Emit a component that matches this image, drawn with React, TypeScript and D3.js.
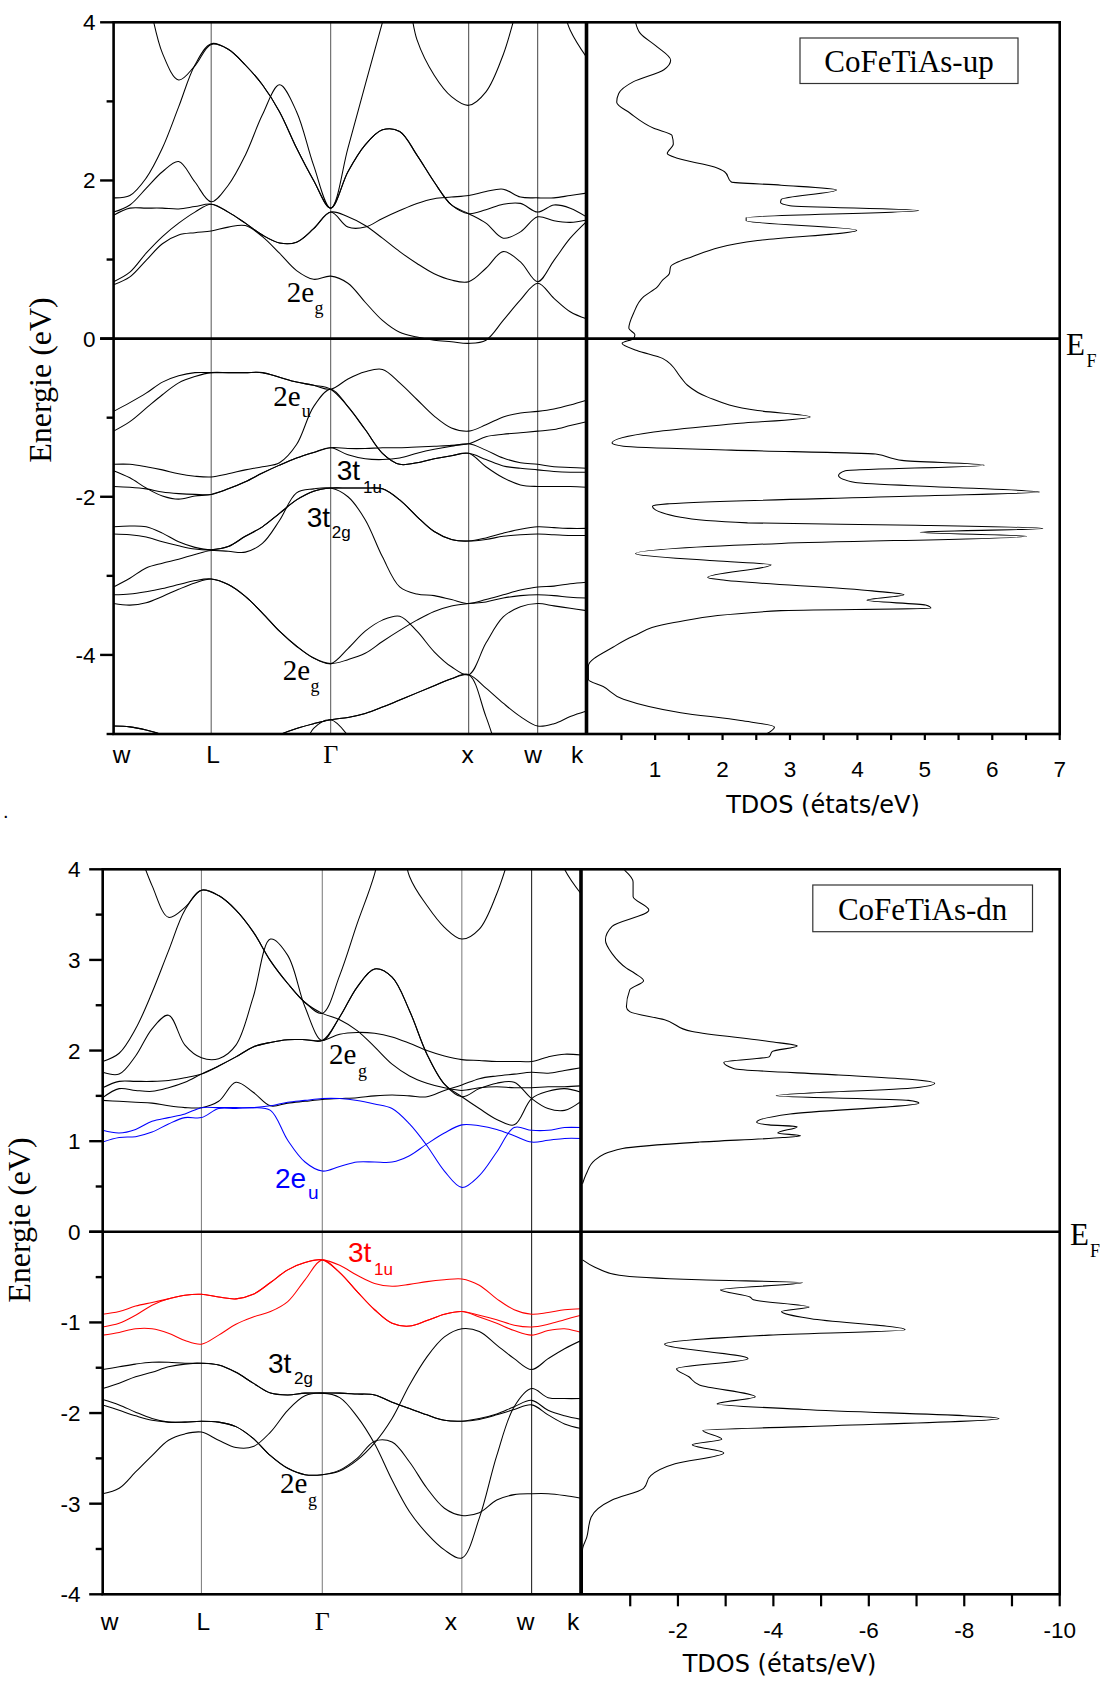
import React from "react";
import * as d3 from "d3";

// ---------- k-path (W L Γ X W K), path-length units ----------
const K_GRID = [0, 0.1179, 0.2357, 0.3536, 0.4714, 0.5893, 0.7071, 0.8308, 0.9545, 1.0782, 1.202, 1.3257, 1.4494, 1.5731, 1.6981, 1.8231, 1.9481, 2.0731, 2.1981, 2.3231, 2.4481, 2.5731, 2.6981, 2.8231, 2.9481, 3.0731, 3.191, 3.3088, 3.4267];
const K_SYM = [0, 0.7071, 1.5731, 2.5731, 3.0731, 3.4267];
const K_LABELS = ["w", "L", "Γ", "x", "w", "k"];

// ---------- spin-up bands (eV) ----------
const UP_C1 = [5.8, 5.0, 4.4, 3.61, 3.27, 3.45, 3.72, 3.66, 3.46, 3.21, 2.87, 2.41, 2.0, 1.65, 2.41, 3.21, 4.0, 4.8, 3.78, 3.33, 3.06, 2.95, 3.12, 3.59, 4.3, 4.8, 4.5, 3.9, 3.56];
const UP_C2 = [1.78, 1.81, 2.03, 2.41, 2.93, 3.46, 3.73, 3.66, 3.46, 3.21, 2.87, 2.41, 2.0, 1.65, 2.11, 2.45, 2.64, 2.62, 2.32, 1.98, 1.69, 1.58, 1.63, 1.7, 1.71, 1.6, 1.69, 1.65, 1.54];
const UP_C3 = [1.6, 1.69, 1.9, 2.11, 2.24, 1.98, 1.73, 1.94, 2.32, 2.83, 3.21, 2.87, 2.19, 1.65, 2.11, 2.45, 2.64, 2.62, 2.32, 1.98, 1.69, 1.58, 1.46, 1.27, 1.35, 1.54, 1.49, 1.47, 1.5];
const UP_C4 = [1.56, 1.65, 1.65, 1.65, 1.64, 1.67, 1.7, 1.6, 1.46, 1.31, 1.21, 1.22, 1.39, 1.6, 1.41, 1.41, 1.52, 1.62, 1.71, 1.77, 1.79, 1.81, 1.86, 1.89, 1.79, 1.78, 1.78, 1.81, 1.84];
const UP_C5 = [0.72, 0.84, 1.08, 1.29, 1.46, 1.6, 1.7, 1.6, 1.46, 1.31, 1.21, 1.22, 1.39, 1.6, 1.54, 1.43, 1.27, 1.1, 0.95, 0.82, 0.74, 0.72, 0.89, 1.1, 0.97, 0.72, 0.99, 1.27, 1.48];
const UP_C6 = [0.68, 0.78, 0.99, 1.2, 1.31, 1.34, 1.36, 1.41, 1.43, 1.29, 1.08, 0.86, 0.75, 0.79, 0.7, 0.46, 0.23, 0.08, 0.02, -0.02, -0.04, -0.06, -0.02, 0.23, 0.49, 0.7, 0.51, 0.34, 0.25];
const UP_V1 = [-0.92, -0.81, -0.69, -0.55, -0.47, -0.43, -0.43, -0.43, -0.43, -0.43, -0.49, -0.55, -0.59, -0.64, -0.51, -0.42, -0.39, -0.56, -0.77, -0.98, -1.13, -1.17, -1.09, -0.99, -0.94, -0.92, -0.89, -0.84, -0.78];
const UP_V2 = [-1.17, -1.05, -0.88, -0.71, -0.56, -0.48, -0.43, -0.43, -0.43, -0.43, -0.49, -0.55, -0.59, -0.64, -0.86, -1.15, -1.45, -1.59, -1.57, -1.52, -1.48, -1.45, -1.53, -1.61, -1.64, -1.66, -1.68, -1.69, -1.69];
const UP_V3 = [-1.59, -1.59, -1.62, -1.66, -1.71, -1.74, -1.75, -1.71, -1.66, -1.62, -1.57, -1.34, -0.86, -0.64, -0.86, -1.15, -1.45, -1.59, -1.57, -1.52, -1.48, -1.45, -1.62, -1.76, -1.85, -1.87, -1.87, -1.87, -1.88];
const UP_V4 = [-1.67, -1.76, -1.89, -1.99, -2.03, -1.99, -1.97, -1.9, -1.81, -1.7, -1.6, -1.51, -1.44, -1.38, -1.39, -1.39, -1.38, -1.38, -1.37, -1.36, -1.35, -1.33, -1.24, -1.21, -1.19, -1.17, -1.15, -1.1, -1.05];
const UP_V5 = [-1.87, -1.88, -1.9, -1.94, -1.96, -1.97, -1.97, -1.9, -1.81, -1.7, -1.6, -1.51, -1.44, -1.38, -1.47, -1.52, -1.53, -1.51, -1.45, -1.4, -1.36, -1.33, -1.41, -1.51, -1.57, -1.59, -1.62, -1.63, -1.64];
const UP_V6 = [-2.38, -2.37, -2.38, -2.46, -2.57, -2.64, -2.67, -2.63, -2.5, -2.38, -2.21, -2.04, -1.93, -1.89, -1.89, -1.89, -1.9, -2.04, -2.25, -2.44, -2.54, -2.56, -2.52, -2.46, -2.41, -2.38, -2.39, -2.4, -2.4];
const UP_V7 = [-2.47, -2.48, -2.51, -2.57, -2.62, -2.66, -2.67, -2.63, -2.5, -2.38, -2.21, -2.04, -1.93, -1.89, -1.89, -1.89, -1.9, -2.04, -2.25, -2.44, -2.54, -2.56, -2.54, -2.5, -2.48, -2.47, -2.48, -2.49, -2.49];
const UP_V8 = [-3.14, -3.03, -2.9, -2.84, -2.79, -2.73, -2.68, -2.69, -2.7, -2.59, -2.3, -1.95, -1.9, -1.89, -2.0, -2.29, -2.76, -3.14, -3.23, -3.25, -3.3, -3.35, -3.3, -3.24, -3.18, -3.14, -3.13, -3.1, -3.08];
const UP_V9 = [-3.24, -3.23, -3.2, -3.16, -3.11, -3.06, -3.04, -3.11, -3.26, -3.47, -3.7, -3.89, -4.04, -4.11, -4.06, -3.98, -3.83, -3.69, -3.56, -3.45, -3.38, -3.35, -3.33, -3.28, -3.25, -3.24, -3.25, -3.27, -3.28];
const UP_V10 = [-3.35, -3.37, -3.34, -3.26, -3.17, -3.09, -3.04, -3.11, -3.26, -3.47, -3.7, -3.89, -4.04, -4.11, -3.92, -3.7, -3.56, -3.51, -3.7, -3.96, -4.15, -4.25, -3.85, -3.52, -3.39, -3.35, -3.38, -3.41, -3.44];
const UP_V11 = [-4.9, -4.91, -4.95, -5.01, -5.1, -5.2, -5.25, -5.25, -5.2, -5.12, -5.01, -4.93, -4.87, -4.82, -4.79, -4.74, -4.66, -4.57, -4.48, -4.39, -4.3, -4.25, -4.42, -4.61, -4.78, -4.9, -4.87, -4.78, -4.71];
const UP_V12 = [-5.8, -5.8, -5.8, -5.8, -5.8, -5.8, -5.8, -5.8, -5.8, -5.8, -5.8, -5.4, -4.93, -4.82, -5.02, -5.4, -5.8, -5.8, -5.8, -5.8, -5.8, -5.8, -5.8, -5.8, -5.8, -5.8, -5.8, -5.8, -5.8];
const UP_V13 = [-4.9, -4.91, -4.95, -5.01, -5.1, -5.2, -5.25, -5.25, -5.2, -5.12, -5.01, -4.93, -4.87, -4.82, -4.79, -4.74, -4.66, -4.57, -4.48, -4.39, -4.3, -4.25, -4.78, -5.4, -5.8, -5.8, -5.8, -5.8, -5.8];

// ---------- spin-down bands (eV) ----------
const DN_C1 = [5.5, 4.8, 4.3, 3.82, 3.47, 3.58, 3.77, 3.71, 3.55, 3.31, 2.99, 2.74, 2.53, 2.41, 2.83, 3.4, 3.95, 4.8, 3.92, 3.6, 3.36, 3.23, 3.34, 3.73, 4.3, 4.8, 4.5, 4.0, 3.73];
const DN_C2 = [1.88, 1.97, 2.24, 2.64, 3.1, 3.55, 3.77, 3.71, 3.55, 3.31, 2.99, 2.74, 2.53, 2.41, 2.34, 2.22, 2.04, 1.85, 1.72, 1.64, 1.59, 1.56, 1.59, 1.6, 1.59, 1.59, 1.6, 1.6, 1.61];
const DN_C3 = [1.76, 1.74, 1.94, 2.24, 2.39, 2.06, 1.92, 1.91, 2.06, 2.59, 3.23, 3.05, 2.48, 2.11, 2.37, 2.7, 2.9, 2.81, 2.44, 1.96, 1.63, 1.49, 1.36, 1.24, 1.18, 1.47, 1.55, 1.58, 1.54];
const DN_C4 = [1.59, 1.66, 1.66, 1.66, 1.67, 1.7, 1.74, 1.83, 1.93, 2.04, 2.09, 2.12, 2.12, 2.11, 2.37, 2.7, 2.9, 2.81, 2.44, 1.96, 1.63, 1.49, 1.58, 1.64, 1.65, 1.47, 1.36, 1.34, 1.44];
const DN_C5 = [1.48, 1.58, 1.56, 1.55, 1.59, 1.65, 1.74, 1.83, 1.93, 2.04, 2.09, 2.12, 2.12, 2.11, 2.18, 2.2, 2.19, 2.15, 2.08, 2.0, 1.94, 1.9, 1.89, 1.88, 1.88, 1.88, 1.93, 1.96, 1.95];
const DN_C6 = [1.45, 1.44, 1.43, 1.42, 1.39, 1.37, 1.37, 1.44, 1.65, 1.54, 1.39, 1.42, 1.44, 1.46, 1.47, 1.48, 1.5, 1.51, 1.5, 1.49, 1.56, 1.62, 1.69, 1.72, 1.74, 1.76, 1.75, 1.78, 1.81];
const DN_B1 = [1.12, 1.09, 1.13, 1.22, 1.26, 1.3, 1.37, 1.37, 1.37, 1.37, 1.39, 1.43, 1.45, 1.47, 1.47, 1.45, 1.41, 1.36, 1.19, 0.95, 0.67, 0.49, 0.62, 0.88, 1.15, 1.12, 1.12, 1.15, 1.15];
const DN_B2 = [0.99, 1.04, 1.05, 1.1, 1.19, 1.26, 1.26, 1.36, 1.36, 1.37, 1.34, 1.01, 0.77, 0.67, 0.72, 0.77, 0.77, 0.77, 0.84, 0.97, 1.09, 1.18, 1.17, 1.13, 1.06, 0.99, 1.01, 1.03, 1.03];
const DN_R1 = [-0.91, -0.88, -0.82, -0.78, -0.74, -0.7, -0.69, -0.72, -0.74, -0.69, -0.56, -0.42, -0.34, -0.31, -0.37, -0.48, -0.57, -0.6, -0.58, -0.55, -0.53, -0.52, -0.59, -0.74, -0.86, -0.91, -0.89, -0.86, -0.85];
const DN_R2 = [-1.05, -1.01, -0.92, -0.81, -0.74, -0.7, -0.69, -0.72, -0.74, -0.69, -0.56, -0.42, -0.34, -0.31, -0.45, -0.66, -0.86, -1.01, -1.04, -0.98, -0.91, -0.88, -0.92, -0.97, -1.03, -1.05, -1.02, -0.97, -0.92];
const DN_R3 = [-1.14, -1.11, -1.07, -1.07, -1.12, -1.2, -1.24, -1.14, -1.02, -0.94, -0.88, -0.77, -0.53, -0.31, -0.45, -0.66, -0.86, -1.01, -1.04, -0.98, -0.91, -0.88, -0.94, -1.01, -1.09, -1.14, -1.09, -1.07, -1.11];
const DN_K1 = [-1.52, -1.49, -1.46, -1.44, -1.44, -1.45, -1.45, -1.47, -1.55, -1.67, -1.78, -1.8, -1.78, -1.78, -1.78, -1.79, -1.8, -1.88, -1.95, -2.02, -2.08, -2.09, -2.06, -2.01, -1.93, -1.86, -1.97, -2.03, -2.07];
const DN_K2 = [-1.73, -1.67, -1.6, -1.55, -1.49, -1.46, -1.45, -1.47, -1.55, -1.67, -1.78, -1.8, -1.78, -1.78, -1.78, -1.79, -1.8, -1.88, -1.95, -2.02, -2.08, -2.09, -2.07, -2.02, -1.96, -1.91, -2.02, -2.12, -2.17];
const DN_K3 = [-1.85, -1.91, -1.99, -2.06, -2.1, -2.1, -2.09, -2.1, -2.15, -2.28, -2.47, -2.61, -2.68, -2.68, -2.64, -2.52, -2.33, -2.06, -1.69, -1.38, -1.16, -1.07, -1.1, -1.25, -1.4, -1.52, -1.4, -1.29, -1.2];
const DN_K4 = [-1.91, -1.97, -2.03, -2.08, -2.1, -2.1, -2.09, -2.1, -2.15, -2.28, -2.47, -2.61, -2.68, -2.68, -2.63, -2.5, -2.31, -2.32, -2.54, -2.83, -3.05, -3.13, -3.1, -2.96, -2.9, -2.89, -2.89, -2.91, -2.94];
const DN_K5 = [-2.89, -2.83, -2.65, -2.47, -2.3, -2.23, -2.21, -2.3, -2.38, -2.37, -2.21, -1.97, -1.81, -1.78, -1.83, -2.04, -2.34, -2.74, -3.09, -3.33, -3.51, -3.6, -3.16, -2.47, -1.93, -1.73, -1.83, -1.84, -1.84];

// ---------- TDOS ----------
const UP_DOS_E = [4.0, 3.86, 3.69, 3.52, 3.4, 3.25, 3.1, 2.99, 2.85, 2.66, 2.57, 2.46, 2.34, 2.28, 2.17, 2.11, 1.98, 1.94, 1.88, 1.76, 1.72, 1.68, 1.62, 1.53, 1.49, 1.37, 1.24, 1.03, 0.91, 0.82, 0.74, 0.65, 0.53, 0.32, 0.13, 0.05, 0.0, -0.06, -0.15, -0.25, -0.49, -0.59, -0.74, -0.91, -0.99, -1.08, -1.18, -1.32, -1.36, -1.41, -1.46, -1.52, -1.54, -1.6, -1.67, -1.73, -1.82, -1.88, -1.94, -1.99, -2.09, -2.12, -2.26, -2.33, -2.36, -2.4, -2.45, -2.5, -2.59, -2.72, -2.81, -2.86, -3.02, -3.05, -3.19, -3.24, -3.31, -3.37, -3.41, -3.44, -3.59, -3.76, -3.9, -4.14, -4.31, -4.4, -4.56, -4.73, -4.83, -4.91, -5.0];
const UP_DOS_V = [0.71, 0.78, 1.03, 1.23, 1.13, 0.68, 0.46, 0.43, 0.63, 0.98, 1.25, 1.27, 1.18, 1.33, 1.88, 2.03, 2.13, 2.87, 3.69, 2.87, 2.86, 3.0, 4.91, 2.35, 2.35, 3.99, 2.52, 1.53, 1.23, 1.21, 1.11, 1.03, 0.83, 0.68, 0.61, 0.7, 0.68, 0.51, 0.73, 1.11, 1.38, 1.48, 1.78, 2.52, 3.3, 2.13, 0.98, 0.36, 0.53, 2.13, 4.27, 4.54, 4.66, 5.88, 3.82, 3.72, 3.97, 5.36, 6.7, 4.86, 1.18, 0.96, 1.38, 2.37, 4.86, 6.75, 4.93, 6.51, 2.87, 0.71, 1.88, 2.72, 1.78, 1.97, 4.22, 4.69, 4.14, 5.01, 5.09, 2.87, 1.28, 0.68, 0.38, 0.01, 0.01, 0.23, 0.53, 1.38, 2.27, 2.77, 2.65];
const DN_DOS_CB_E = [3.99, 3.86, 3.7, 3.55, 3.37, 3.22, 3.07, 2.91, 2.85, 2.77, 2.67, 2.48, 2.43, 2.34, 2.21, 2.1, 2.05, 1.99, 1.93, 1.87, 1.8, 1.73, 1.68, 1.64, 1.59, 1.5, 1.45, 1.42, 1.3, 1.21, 1.18, 1.16, 1.09, 1.06, 1.04, 0.99, 0.92, 0.79, 0.64, 0.53];
const DN_DOS_CB_V = [-0.88, -1.06, -1.06, -1.39, -0.62, -0.48, -0.62, -0.92, -1.1, -1.28, -0.99, -0.92, -0.99, -1.72, -2.3, -3.91, -4.5, -3.98, -3.91, -2.96, -3.18, -5.37, -6.91, -7.38, -6.98, -4.06, -6.83, -7.05, -4.35, -3.65, -3.91, -4.5, -4.09, -4.57, -4.2, -2.45, -0.84, -0.26, -0.08, 0.0];
const DN_DOS_VB_E = [-0.31, -0.39, -0.48, -0.53, -0.56, -0.64, -0.72, -0.75, -0.83, -0.88, -0.96, -1.08, -1.14, -1.24, -1.4, -1.51, -1.6, -1.69, -1.82, -1.9, -1.96, -2.06, -2.15, -2.19, -2.29, -2.35, -2.44, -2.56, -2.69, -2.83, -2.96, -3.15, -3.37, -3.51, -4.0];
const DN_DOS_VB_V = [0.0, -0.26, -0.77, -2.45, -4.61, -2.89, -3.51, -3.58, -4.75, -4.17, -4.79, -6.76, -3.91, -1.72, -3.47, -1.97, -2.23, -2.45, -3.62, -2.82, -4.64, -8.73, -4.64, -2.52, -2.92, -2.3, -2.96, -1.94, -1.43, -1.28, -0.62, -0.18, -0.09, 0.0, 0.0];

// ---------- axis ticks ----------
const UP_Y_MAJOR = [4, 2, 0, -2, -4];
const UP_Y_MINOR = [3, 1, -1, -3, -5];
const DN_Y_MAJOR = [4, 3, 2, 1, 0, -1, -2, -3, -4];
const DN_Y_MINOR = [3.5, 2.5, 1.5, 0.5, -0.5, -1.5, -2.5, -3.5];
const UP_DOS_TICKS = [0.5, 1, 1.5, 2, 2.5, 3, 3.5, 4, 4.5, 5, 5.5, 6, 6.5, 7];
const UP_DOS_LABELS = [1, 2, 3, 4, 5, 6, 7];
const DN_DOS_TICKS = [-1, -2, -3, -4, -5, -6, -7, -8, -9, -10];
const DN_DOS_LABELS = [-2, -4, -6, -8, -10];

const SANS = "'Liberation Sans', Arial, sans-serif";
const SERIF = "'Liberation Serif', 'Times New Roman', serif";
const TAHOMA = "'DejaVu Sans', Verdana, sans-serif";

type BandDef = { e: number[]; color: string };
type Ann = { main: string; sub: string; x: number; y: number; sx: number; sy: number; serif: boolean; color: string; size: number; subSize: number };

type Cfg = {
  id: string;
  left: number; kx: number; right: number; top: number; bottom: number;
  eDomain: [number, number];
  yMajor: number[]; yMinor: number[]; yLabelX: number;
  dosDomain: [number, number]; dosRange: [number, number];
  dosTicks: number[]; dosLabels: number[]; dosTickLen: number; dosLabelY: number;
  dosTitleX: number; dosTitleY: number;
  kLabelY: number; kLabelDx: number[];
  symColors: string[];
  bands: BandDef[];
  dos: { e: number[]; v: number[] }[];
  legend: { text: string; x: number; y: number; w: number; h: number; ty: number };
  ef: { x: number; y: number; fx: number; fy: number };
  yTitle: { x: number; y: number };
  anns: Ann[];
};

function Panel({ c }: { c: Cfg }) {
  const xk = d3.scaleLinear().domain([0, K_SYM[K_SYM.length - 1]]).range([c.left, c.kx]);
  const ye = d3.scaleLinear().domain(c.eDomain).range([c.bottom, c.top]);
  const xd = d3.scaleLinear().domain(c.dosDomain).range(c.dosRange);
  const bandLine = d3
    .line<number>()
    .x((_, i) => xk(K_GRID[i]))
    .y((e) => ye(e))
    .curve(d3.curveCatmullRom.alpha(0.5));
  const majLen = 13.5;
  const minLen = 7;
  const y0 = ye(0);
  return (
    <g>
      <defs>
        <clipPath id={`band-${c.id}`}>
          <rect x={c.left} y={c.top} width={c.kx - c.left} height={c.bottom - c.top} />
        </clipPath>
        <clipPath id={`dos-${c.id}`}>
          <rect x={c.kx} y={c.top} width={c.right - c.kx} height={c.bottom - c.top} />
        </clipPath>
      </defs>
      {K_SYM.slice(1, -1).map((k, i) => (
        <line key={`s${i}`} x1={xk(k)} x2={xk(k)} y1={c.top} y2={c.bottom} stroke={c.symColors[i]} strokeWidth={1} />
      ))}
      <g clipPath={`url(#band-${c.id})`}>
        {c.bands.map((b, i) => (
          <path key={`b${i}`} d={bandLine(b.e) || ""} fill="none" stroke={b.color} strokeWidth={1.05} />
        ))}
      </g>
      <g clipPath={`url(#dos-${c.id})`}>
        {c.dos.map((s, j) => {
          const l = d3
            .line<number>()
            .x((v) => xd(v))
            .y((_, i) => ye(s.e[i]))
            .curve(d3.curveMonotoneY);
          return <path key={`d${j}`} d={l(s.v) || ""} fill="none" stroke="#000" strokeWidth={1.05} />;
        })}
      </g>
      <rect x={c.left} y={c.top} width={c.right - c.left} height={c.bottom - c.top} fill="none" stroke="#000" strokeWidth={2.6} />
      <line x1={c.kx} x2={c.kx} y1={c.top} y2={c.bottom} stroke="#000" strokeWidth={3.6} />
      <line x1={c.left - majLen} x2={c.right} y1={y0} y2={y0} stroke="#000" strokeWidth={2.6} />
      {c.yMajor.map((t) => (
        <g key={`ym${t}`}>
          <line x1={c.left - majLen} x2={c.left} y1={ye(t)} y2={ye(t)} stroke="#000" strokeWidth={2.4} />
          <text x={c.yLabelX} y={ye(t) + 8} textAnchor="end" fontFamily={SANS} fontSize={22.5}>
            {t}
          </text>
        </g>
      ))}
      {c.yMinor.map((t) => (
        <line key={`yn${t}`} x1={c.left - minLen} x2={c.left} y1={ye(t)} y2={ye(t)} stroke="#000" strokeWidth={2.4} />
      ))}
      {c.dosTicks.map((t) => (
        <line key={`dt${t}`} x1={xd(t)} x2={xd(t)} y1={c.bottom} y2={c.bottom + c.dosTickLen} stroke="#000" strokeWidth={2.2} />
      ))}
      {c.dosLabels.map((t) => (
        <text key={`dl${t}`} x={xd(t)} y={c.dosLabelY} textAnchor="middle" fontFamily={SANS} fontSize={22.5}>
          {t}
        </text>
      ))}
      <text x={c.dosTitleX} y={c.dosTitleY} textAnchor="middle" fontFamily={TAHOMA} fontSize={24}>
        TDOS (états/eV)
      </text>
      {K_SYM.map((k, i) => (
        <text
          key={`kl${i}`}
          x={xk(k) + c.kLabelDx[i]}
          y={c.kLabelY}
          textAnchor="middle"
          fontFamily={K_LABELS[i] === "Γ" ? SERIF : SANS}
          fontSize={K_LABELS[i] === "Γ" ? 26 : 24.5}
        >
          {K_LABELS[i]}
        </text>
      ))}
      <text
        transform={`translate(${c.yTitle.x},${c.yTitle.y}) rotate(-90)`}
        textAnchor="middle"
        fontFamily={SERIF}
        fontSize={32}
      >
        Energie (eV)
      </text>
      <rect x={c.legend.x} y={c.legend.y} width={c.legend.w} height={c.legend.h} fill="#fff" stroke="#333" strokeWidth={1.2} />
      <text x={c.legend.x + c.legend.w / 2} y={c.legend.ty} textAnchor="middle" fontFamily={SERIF} fontSize={31}>
        {c.legend.text}
      </text>
      <text x={c.ef.x} y={c.ef.y} fontFamily={SERIF} fontSize={31}>
        E
      </text>
      <text x={c.ef.fx} y={c.ef.fy} fontFamily={SERIF} fontSize={18}>
        F
      </text>
      {c.anns.map((a, i) => (
        <g key={`a${i}`} fill={a.color}>
          <text x={a.x} y={a.y} fontFamily={a.serif ? SERIF : SANS} fontSize={a.size}>
            {a.main}
          </text>
          <text x={a.sx} y={a.sy} fontFamily={a.serif ? SERIF : SANS} fontSize={a.subSize}>
            {a.sub}
          </text>
        </g>
      ))}
    </g>
  );
}

const black = "#000";

const TOP_CFG: Cfg = {
  id: "up",
  left: 113.6, kx: 586.5, right: 1059.7, top: 22.3, bottom: 734,
  eDomain: [-5, 4],
  yMajor: UP_Y_MAJOR, yMinor: UP_Y_MINOR, yLabelX: 95.5,
  dosDomain: [0, 7], dosRange: [587.7, 1059.7],
  dosTicks: UP_DOS_TICKS, dosLabels: UP_DOS_LABELS, dosTickLen: 6, dosLabelY: 777,
  dosTitleX: 823, dosTitleY: 813,
  kLabelY: 763, kLabelDx: [8, 2, 0, -1, -4.5, -9.5],
  symColors: ["#555", "#555", "#444", "#444"],
  bands: [UP_C1, UP_C2, UP_C3, UP_C4, UP_C5, UP_C6, UP_V1, UP_V2, UP_V3, UP_V4, UP_V5, UP_V6, UP_V7, UP_V8, UP_V9, UP_V10, UP_V11, UP_V12, UP_V13].map((e) => ({ e, color: black })),
  dos: [{ e: UP_DOS_E, v: UP_DOS_V }],
  legend: { text: "CoFeTiAs-up", x: 800, y: 38, w: 218, h: 45.5, ty: 71.5 },
  ef: { x: 1066, y: 355, fx: 1086.5, fy: 367 },
  yTitle: { x: 51, y: 380 },
  anns: [
    { main: "2e", sub: "g", x: 286.7, y: 301.7, sx: 314.5, sy: 313.5, serif: true, color: black, size: 29, subSize: 18 },
    { main: "2e", sub: "u", x: 273.3, y: 406, sx: 301.7, sy: 417, serif: true, color: black, size: 29, subSize: 18 },
    { main: "3t", sub: "1u", x: 336.7, y: 480, sx: 363, sy: 492.7, serif: false, color: black, size: 28, subSize: 17 },
    { main: "3t", sub: "2g", x: 306.7, y: 527, sx: 331.7, sy: 538, serif: false, color: black, size: 28, subSize: 17 },
    { main: "2e", sub: "g", x: 282.7, y: 680, sx: 310.5, sy: 692, serif: true, color: black, size: 29, subSize: 18 },
  ],
};

const BOT_CFG: Cfg = {
  id: "dn",
  left: 102.7, kx: 581, right: 1059.7, top: 869.3, bottom: 1594.3,
  eDomain: [-4, 4],
  yMajor: DN_Y_MAJOR, yMinor: DN_Y_MINOR, yLabelX: 80.5,
  dosDomain: [0, -10], dosRange: [582.5, 1059.7],
  dosTicks: DN_DOS_TICKS, dosLabels: DN_DOS_LABELS, dosTickLen: 12, dosLabelY: 1638,
  dosTitleX: 779.5, dosTitleY: 1672,
  kLabelY: 1630, kLabelDx: [7, 2, 0, -11, -6, -8],
  symColors: ["#777", "#777", "#777", "#111"],
  bands: [
    ...[DN_C1, DN_C2, DN_C3, DN_C4, DN_C5, DN_C6, DN_K1, DN_K2, DN_K3, DN_K4, DN_K5].map((e) => ({ e, color: black })),
    ...[DN_B1, DN_B2].map((e) => ({ e, color: "#0000ff" })),
    ...[DN_R1, DN_R2, DN_R3].map((e) => ({ e, color: "#ff0000" })),
  ],
  dos: [
    { e: DN_DOS_CB_E, v: DN_DOS_CB_V },
    { e: DN_DOS_VB_E, v: DN_DOS_VB_V },
  ],
  legend: { text: "CoFeTiAs-dn", x: 812.8, y: 885, w: 219.7, h: 46.7, ty: 920 },
  ef: { x: 1070, y: 1245, fx: 1090, fy: 1257 },
  yTitle: { x: 30, y: 1220 },
  anns: [
    { main: "2e", sub: "g", x: 329, y: 1064, sx: 358, sy: 1077, serif: true, color: black, size: 29, subSize: 18 },
    { main: "2e", sub: "u", x: 275, y: 1188, sx: 308, sy: 1199, serif: false, color: "#0000ff", size: 28, subSize: 19 },
    { main: "3t", sub: "1u", x: 348, y: 1262, sx: 374, sy: 1275, serif: false, color: "#ff0000", size: 28, subSize: 17 },
    { main: "3t", sub: "2g", x: 268, y: 1373, sx: 294, sy: 1384, serif: false, color: black, size: 28, subSize: 17 },
    { main: "2e", sub: "g", x: 280, y: 1493, sx: 308, sy: 1506, serif: true, color: black, size: 29, subSize: 18 },
  ],
};

export default function App() {
  return (
    <svg
      width={1106}
      height={1681}
      viewBox="0 0 1106 1681"
      style={{ position: "absolute", left: 0, top: 0, background: "#fff" }}
    >
      <rect x={0} y={0} width={1106} height={1681} fill="#fff" />
      <Panel c={TOP_CFG} />
      <Panel c={BOT_CFG} />
      <text x={3} y={818} fontFamily={SANS} fontSize={20}>
        .
      </text>
    </svg>
  );
}
